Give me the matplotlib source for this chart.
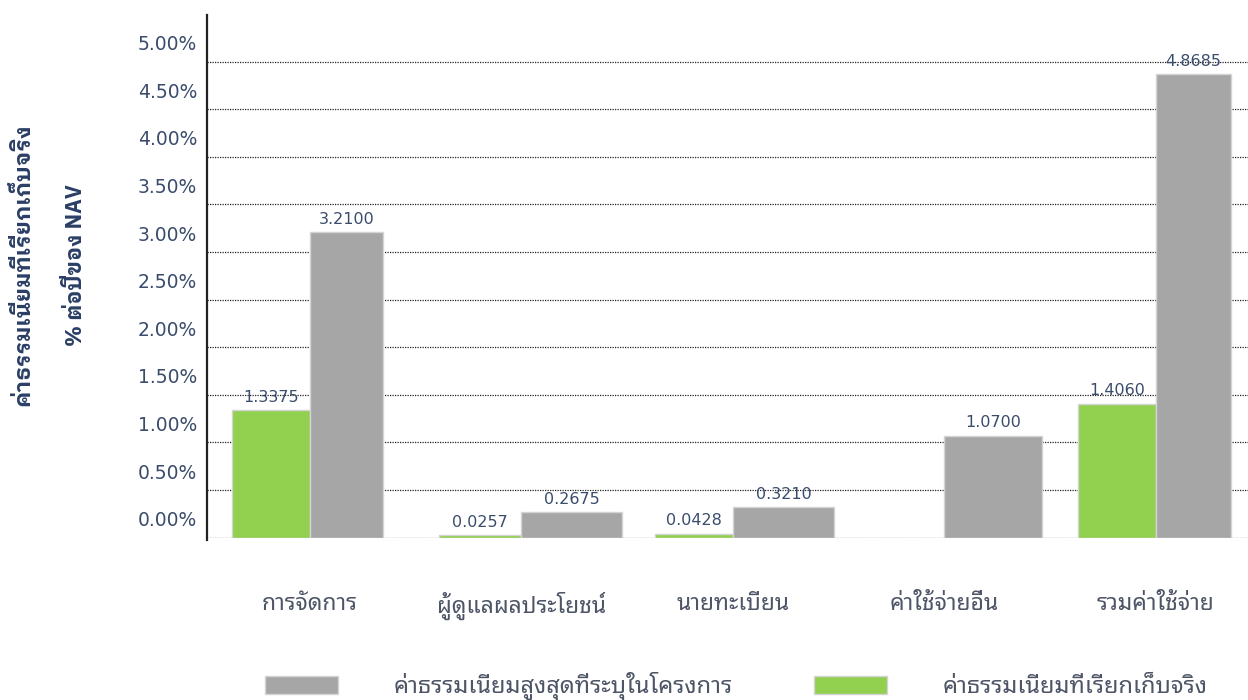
import matplotlib
matplotlib.use('Agg')
import matplotlib.pyplot as plt
from matplotlib.transforms import ScaledTranslation
from matplotlib.patches import Patch

# ---- data ----
categories = ['การจัดการ', 'ผู้ดูแลผลประโยชน์', 'นายทะเบียน', 'ค่าใช้จ่ายอื่น', 'รวมค่าใช้จ่าย']
actual_fee = [1.3375, 0.0257, 0.0428, None, 1.4060]      # ค่าธรรมเนียมที่เรียกเก็บจริง
max_fee = [3.2100, 0.2675, 0.3210, 1.0700, 4.8685]        # ค่าธรรมเนียมสูงสุดที่ระบุในโครงการ
ytick_values = [0, 0.5, 1.0, 1.5, 2.0, 2.5, 3.0, 3.5, 4.0, 4.5, 5.0]
ytick_labels = ['0.00%', '0.50%', '1.00%', '1.50%', '2.00%', '2.50%', '3.00%', '3.50%', '4.00%', '4.50%', '5.00%']
legend_labels = ['ค่าธรรมเนียมสูงสุดที่ระบุในโครงการ', 'ค่าธรรมเนียมที่เรียกเก็บจริง']
ylabel_lines = ['ค่าธรรมเนียมที่เรียกเก็บจริง', '% ต่อปีของ NAV']

# ---- style ----
GREEN = '#92D050'
GRAY = '#A6A6A6'
EDGE = '#D4D4D4'
TXT = '#3A4C6C'
CAT = '#4D5566'
THAI = ['Noto Sans Thai Looped', 'DejaVu Sans']
THAI_BOLD = ['IBM Plex Sans Thai Looped', 'Noto Sans Thai Looped', 'DejaVu Sans']
green_w = [0.37, 0.39, 0.37, 0.37, 0.37]
gray_w = [0.345, 0.473, 0.478, 0.463, 0.355]

fig = plt.figure(figsize=(12.48, 7.0), dpi=100)
W, H = 1248, 700
ax = fig.add_axes([207 / W, 1 - 537.7 / H, (W - 207) / W, (537.7 - 15) / H])

x = list(range(len(categories)))
for i in x:
    g = actual_fee[i]
    if g is not None:
        ax.bar(i, g, width=-green_w[i], align='edge', color=GREEN, edgecolor=EDGE, linewidth=1, zorder=3)
        ax.annotate(f'{g:.4f}', (i - green_w[i] / 2, g), xytext=(0, 4), textcoords='offset points',
                    ha='center', va='bottom', fontsize=11.5, color=TXT, family=['DejaVu Sans'], zorder=5)
    m = max_fee[i]
    ax.bar(i, m, width=gray_w[i], align='edge', color=GRAY, edgecolor=EDGE, linewidth=1, zorder=3)
    ax.annotate(f'{m:.4f}', (i + gray_w[i] / 2, m), xytext=(0, 4), textcoords='offset points',
                ha='center', va='bottom', fontsize=11.5, color=TXT, family=['DejaVu Sans'], zorder=5)

ax.set_xlim(-0.487, 4.435)
ax.set_ylim(0, 5.49)

ax.set_yticks(ytick_values)
ax.set_yticklabels(ytick_labels, fontsize=13.5, color=TXT, family=['DejaVu Sans'])
ax.tick_params(axis='y', length=0, pad=7)

ax.set_xticks(x)
ax.set_xticklabels(categories, fontsize=16.5, color=CAT, family=THAI)
ax.tick_params(axis='x', length=0, pad=39)

ax.grid(axis='y', color='#222222', linestyle=(0, (1, 1)), linewidth=0.9, zorder=1)
ax.set_axisbelow(True)
for s in ['top', 'right', 'bottom']:
    ax.spines[s].set_visible(False)
ax.spines['left'].set_linewidth(1.6)
ax.spines['left'].set_color('#222222')
ax.spines['left'].set_bounds(-0.02, 5.49)

# y label (two lines)
fig.text(22 / W, 1 - 265 / H, ylabel_lines[0], rotation=90, ha='center', va='center',
         fontsize=16, fontweight='bold', color='#2B3F66', family=THAI_BOLD)
fig.text(75 / W, 1 - 265 / H, ylabel_lines[1], rotation=90, ha='center', va='center',
         fontsize=15.5, fontweight='bold', color='#2B3F66', family=THAI_BOLD)

handles = [Patch(facecolor=GRAY, edgecolor=EDGE), Patch(facecolor=GREEN, edgecolor=EDGE)]
fig.legend(handles, legend_labels, loc='center left', bbox_to_anchor=(265 / W, 1 - 686 / H),
           ncol=2, frameon=False, prop={'family': THAI, 'size': 17},
           handlelength=3.1, handleheight=0.8, handletextpad=2.35, columnspacing=3.45,
           borderpad=0, borderaxespad=0, labelcolor=CAT)

# y tick labels sit ~19 px above their gridlines, as in the reference
off = ScaledTranslation(0, 19 / 100, fig.dpi_scale_trans)
for t in ax.yaxis.get_major_ticks():
    t.label1.set_transform(t.label1.get_transform() + off)

fig.savefig('out.png', dpi=100)
